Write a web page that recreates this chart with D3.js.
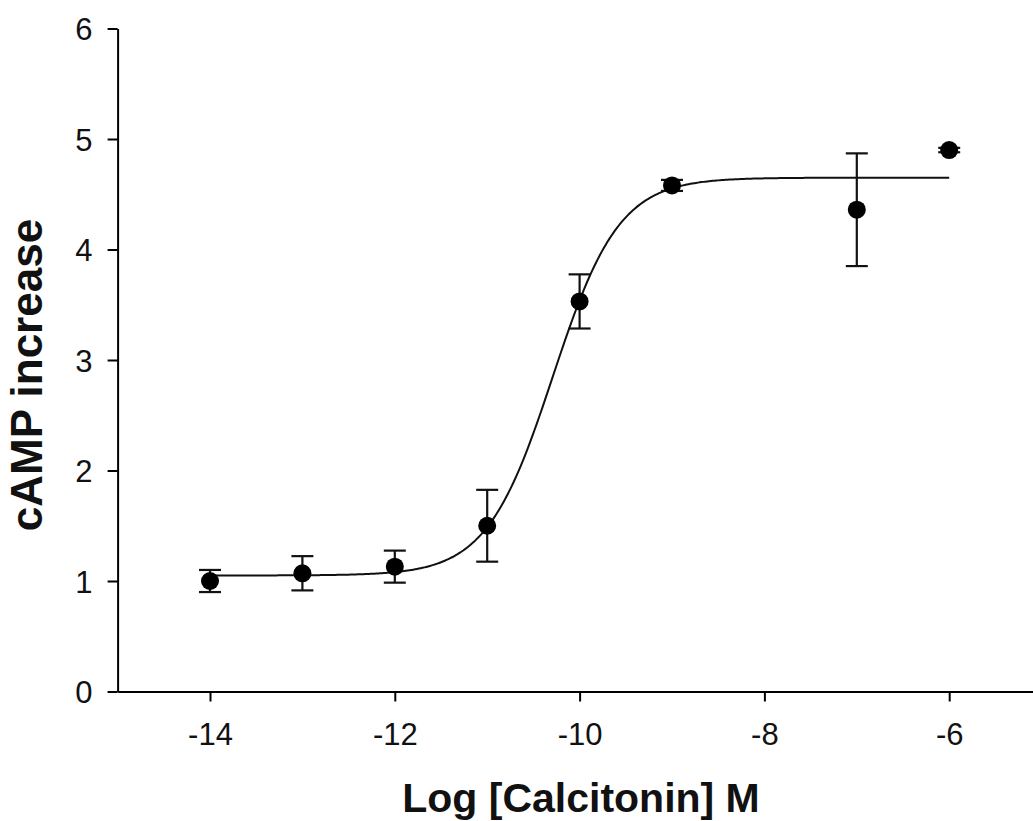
<!DOCTYPE html>
<html>
<head>
<meta charset="utf-8">
<script src="https://cdn.jsdelivr.net/npm/d3@7"></script>
<style>
  html, body { margin: 0; padding: 0; background: #fff; }
  svg { display: block; font-family: "Liberation Sans", Arial, sans-serif; }
</style>
</head>
<body>
<svg id="chart" width="1033" height="821"></svg>
<script>
// Data
const logConc = [-14, -13, -12, -11, -10, -9, -7, -6];
const campMean = [1.00, 1.07, 1.13, 1.50, 3.53, 4.58, 4.36, 4.90];
const campErr  = [0.10, 0.155, 0.145, 0.325, 0.245, 0.05, 0.51, 0.02];
const xTicks = [-14, -12, -10, -8, -6];
const yTicks = [0, 1, 2, 3, 4, 5, 6];
// Fitted sigmoid (4-parameter logistic) parameters
const fitBottom = 1.05, fitTop = 4.65, fitLogEC50 = -10.29, fitHill = 1.21;
const fitRange = [-14, -6];

const svg = d3.select("#chart");
const x = d3.scaleLinear().domain([-15, -5]).range([117.6, 1041.6]);
const y = d3.scaleLinear().domain([0, 6]).range([691.5, 28.5]);

// Axes
const xAxis = svg.append("g")
  .attr("transform", `translate(0,${y(0)})`)
  .call(d3.axisBottom(x).tickValues(xTicks).tickSize(10).tickSizeOuter(0).tickPadding(21)
        .tickFormat(d => d3.format("d")(d).replace("−", "-")));
const yAxis = svg.append("g")
  .attr("transform", `translate(${x(-15)},0)`)
  .call(d3.axisLeft(y).tickValues(yTicks).tickSize(10).tickSizeOuter(0).tickPadding(15)
        .tickFormat(d3.format("d")));
[xAxis, yAxis].forEach(g => {
  g.select(".domain").attr("stroke", "#000").attr("stroke-width", 2);
  g.selectAll(".tick line").attr("stroke", "#000").attr("stroke-width", 2);
  g.selectAll(".tick text").attr("fill", "#111").style("font-size", "31px")
    .style("font-family", "'Liberation Sans', Arial, sans-serif");
});
yAxis.selectAll(".tick text").attr("dy", "0.36em");

// Fit curve
const fitFn = v => fitBottom + (fitTop - fitBottom) / (1 + Math.pow(10, (fitLogEC50 - v) * fitHill));
const curveX = d3.range(fitRange[0], fitRange[1] + 0.001, 0.02);
svg.append("path")
  .datum(curveX)
  .attr("fill", "none")
  .attr("stroke", "#111")
  .attr("stroke-width", 2)
  .attr("d", d3.line().x(d => x(d)).y(d => y(fitFn(d))));

// Error bars
const pts = logConc.map((c, i) => ({ c, m: campMean[i], e: campErr[i] }));
const eb = svg.append("g").attr("stroke", "#111").attr("stroke-width", 2.2);
pts.forEach(p => {
  eb.append("line").attr("x1", x(p.c)).attr("x2", x(p.c)).attr("y1", y(p.m - p.e)).attr("y2", y(p.m + p.e));
  [p.m - p.e, p.m + p.e].forEach(v => {
    eb.append("line").attr("x1", x(p.c) - 11).attr("x2", x(p.c) + 11).attr("y1", y(v)).attr("y2", y(v));
  });
});

// Points
svg.append("g").selectAll("circle").data(pts).join("circle")
  .attr("cx", d => x(d.c)).attr("cy", d => y(d.m)).attr("r", 9).attr("fill", "#000");

// Axis titles
svg.append("text")
  .attr("x", 581).attr("y", 812)
  .attr("text-anchor", "middle")
  .style("font-size", "41px").style("font-weight", "bold").attr("fill", "#111")
  .text("Log [Calcitonin] M");
svg.append("text")
  .attr("transform", "translate(42,375) rotate(-90)")
  .attr("text-anchor", "middle")
  .style("font-size", "44px").style("font-weight", "bold").attr("fill", "#111")
  .text("cAMP increase");
</script>
</body>
</html>
